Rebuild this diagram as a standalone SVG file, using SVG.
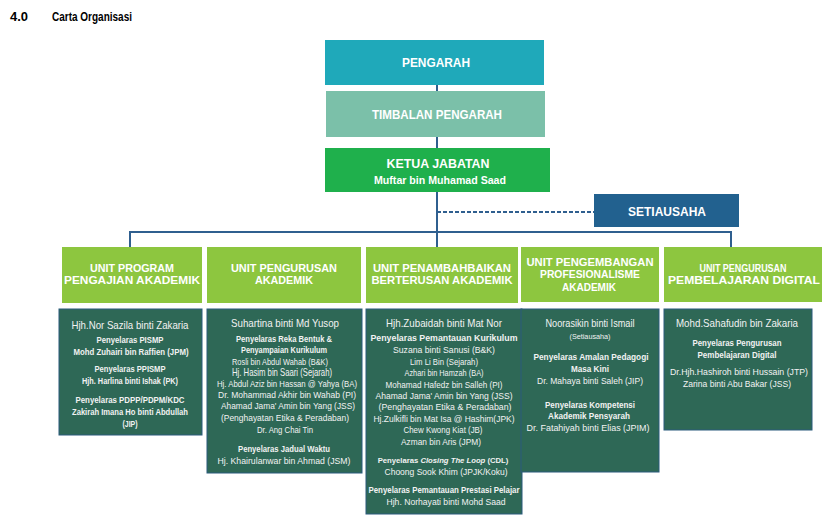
<svg xmlns="http://www.w3.org/2000/svg" width="833" height="531" viewBox="0 0 833 531">
<style>
text{font-family:"Liberation Sans",Arial,sans-serif;}
.t{fill:#fff;text-anchor:middle;font-weight:bold;}
.w{fill:#f2f2f2;text-anchor:middle;}
.b{font-weight:bold;}
.h{fill:#8dc63f;}
.d{fill:#2e6856;stroke:#2b5b7d;stroke-width:1;}
.c{stroke:#2f5f8f;stroke-width:2;fill:none;}
</style>
<rect width="833" height="531" fill="#fff"/>
<text x="10" y="21" font-size="12" font-weight="bold" textLength="18" lengthAdjust="spacingAndGlyphs">4.0</text>
<text x="52" y="21" font-size="12" font-weight="bold" textLength="80" lengthAdjust="spacingAndGlyphs">Carta Organisasi</text>

<g id="connectors">
<line class="c" x1="437" y1="85" x2="437" y2="247"/>
<polyline class="c" points="130,247 130,232 731,232 731,247"/>
<line class="c" x1="437" y1="212" x2="594" y2="212" stroke-dasharray="4,2"/>
</g>

<g id="pengarah">
<rect x="325" y="40" width="219" height="45" fill="#1fa9ba"/>
<text class="t" x="436" y="67" font-size="12" textLength="68" lengthAdjust="spacingAndGlyphs">PENGARAH</text>
</g>
<g id="timbalan">
<rect x="326" y="91" width="219" height="46" fill="#7bc0a9"/>
<text class="t" x="437" y="119" font-size="12" textLength="130" lengthAdjust="spacingAndGlyphs">TIMBALAN PENGARAH</text>
</g>
<g id="ketua">
<rect x="325" y="148" width="225" height="44" fill="#1fb04c"/>
<text class="t" x="438" y="168" font-size="12" textLength="103" lengthAdjust="spacingAndGlyphs">KETUA JABATAN</text>
<text class="t" x="440" y="184" font-size="11" textLength="132" lengthAdjust="spacingAndGlyphs">Muftar bin Muhamad Saad</text>
</g>
<g id="setiausaha">
<rect x="594" y="194" width="145" height="33" fill="#22618f"/>
<text class="t" x="667" y="216" font-size="12" font-weight="normal" textLength="78" lengthAdjust="spacingAndGlyphs">SETIAUSAHA</text>
</g>

<g id="unit1">
<rect class="h" x="62" y="247" width="140" height="56"/>
<text class="t" x="132" y="272" font-size="11.5" textLength="84" lengthAdjust="spacingAndGlyphs">UNIT PROGRAM</text>
<text class="t" x="132" y="284" font-size="11.5" textLength="136" lengthAdjust="spacingAndGlyphs">PENGAJIAN AKADEMIK</text>
<rect class="d" x="59" y="309" width="143" height="126"/>
<text class="w" x="130" y="329" font-size="11" textLength="117" lengthAdjust="spacingAndGlyphs">Hjh.Nor Sazila binti Zakaria</text>
<text class="w b" x="130" y="343" font-size="9" textLength="67" lengthAdjust="spacingAndGlyphs">Penyelaras PISMP</text>
<text class="w b" x="131" y="355" font-size="9" textLength="115" lengthAdjust="spacingAndGlyphs">Mohd Zuhairi bin Raffien (JPM)</text>
<text class="w b" x="130" y="372" font-size="9" textLength="71" lengthAdjust="spacingAndGlyphs">Penyelaras PPISMP</text>
<text class="w b" x="130" y="384" font-size="9" textLength="96" lengthAdjust="spacingAndGlyphs">Hjh. Harlina binti Ishak (PK)</text>
<text class="w b" x="130" y="403" font-size="9" textLength="109" lengthAdjust="spacingAndGlyphs">Penyelaras PDPP/PDPM/KDC</text>
<text class="w b" x="130" y="415" font-size="9" textLength="116" lengthAdjust="spacingAndGlyphs">Zakirah Imana Ho binti Abdullah</text>
<text class="w b" x="130" y="427" font-size="9" textLength="15" lengthAdjust="spacingAndGlyphs">(JIP)</text>
</g>

<g id="unit2">
<rect class="h" x="207" y="247" width="154" height="56"/>
<text class="t" x="284" y="272" font-size="11.5" textLength="106" lengthAdjust="spacingAndGlyphs">UNIT PENGURUSAN</text>
<text class="t" x="284" y="284" font-size="11.5" textLength="58" lengthAdjust="spacingAndGlyphs">AKADEMIK</text>
<rect class="d" x="207" y="309" width="155" height="164"/>
<text class="w" x="285" y="327" font-size="11" textLength="108" lengthAdjust="spacingAndGlyphs">Suhartina binti Md Yusop</text>
<text class="w b" x="284" y="342" font-size="9" textLength="96" lengthAdjust="spacingAndGlyphs">Penyelaras Reka Bentuk &amp;</text>
<text class="w b" x="284" y="353" font-size="9" textLength="86" lengthAdjust="spacingAndGlyphs">Penyampaian Kurikulum</text>
<text class="w" x="280" y="365" font-size="9" textLength="96" lengthAdjust="spacingAndGlyphs">Rosli bin Abdul Wahab (B&amp;K)</text>
<text class="w" x="282" y="376" font-size="10.5" textLength="100" lengthAdjust="spacingAndGlyphs">Hj. Hasim bin Saari (Sejarah)</text>
<text class="w" x="287" y="387" font-size="9" textLength="140" lengthAdjust="spacingAndGlyphs">Hj. Abdul Aziz bin Hassan @ Yahya (BA)</text>
<text class="w" x="287" y="398" font-size="9" textLength="138" lengthAdjust="spacingAndGlyphs">Dr. Mohammad Akhir bin Wahab (PI)</text>
<text class="w" x="288" y="409" font-size="9" textLength="134" lengthAdjust="spacingAndGlyphs">Ahamad Jama' Amin bin Yang (JSS)</text>
<text class="w" x="285" y="421" font-size="9" textLength="128" lengthAdjust="spacingAndGlyphs">(Penghayatan Etika &amp; Peradaban)</text>
<text class="w" x="285" y="433" font-size="9" textLength="56" lengthAdjust="spacingAndGlyphs">Dr. Ang Chai Tin</text>
<text class="w b" x="284" y="452" font-size="9" textLength="92" lengthAdjust="spacingAndGlyphs">Penyelaras Jadual Waktu</text>
<text class="w" x="284" y="464" font-size="9" textLength="133" lengthAdjust="spacingAndGlyphs">Hj. Khairulanwar bin Ahmad (JSM)</text>
</g>

<g id="unit3">
<rect class="h" x="366" y="247" width="152" height="56"/>
<text class="t" x="442" y="272" font-size="11.5" textLength="138" lengthAdjust="spacingAndGlyphs">UNIT PENAMBAHBAIKAN</text>
<text class="t" x="442" y="284" font-size="11.5" textLength="141" lengthAdjust="spacingAndGlyphs">BERTERUSAN AKADEMIK</text>
<rect class="d" x="366" y="309" width="156" height="205"/>
<text class="w" x="444" y="327" font-size="11" textLength="116" lengthAdjust="spacingAndGlyphs">Hjh.Zubaidah binti Mat Nor</text>
<text class="w b" x="444" y="341" font-size="9" textLength="147" lengthAdjust="spacingAndGlyphs">Penyelaras Pemantauan Kurikulum</text>
<text class="w" x="444" y="353" font-size="9" textLength="102" lengthAdjust="spacingAndGlyphs">Suzana binti Sanusi (B&amp;K)</text>
<text class="w" x="444" y="365" font-size="9" textLength="68" lengthAdjust="spacingAndGlyphs">Lim Li Bin (Sejarah)</text>
<text class="w" x="444" y="376" font-size="9" textLength="79" lengthAdjust="spacingAndGlyphs">Azhari bin Hamzah (BA)</text>
<text class="w" x="444" y="388" font-size="9" textLength="117" lengthAdjust="spacingAndGlyphs">Mohamad Hafedz bin Salleh (PI)</text>
<text class="w" x="444" y="399" font-size="9" textLength="137" lengthAdjust="spacingAndGlyphs">Ahamad Jama' Amin bin Yang (JSS)</text>
<text class="w" x="445" y="410" font-size="9" textLength="133" lengthAdjust="spacingAndGlyphs">(Penghayatan Etika &amp; Peradaban)</text>
<text class="w" x="444" y="422" font-size="9" textLength="141" lengthAdjust="spacingAndGlyphs">Hj.Zulkifli bin Mat Isa @ Hashim(JPK)</text>
<text class="w" x="443" y="433" font-size="9" textLength="79" lengthAdjust="spacingAndGlyphs">Chew Kwong Kiat (JB)</text>
<text class="w" x="441" y="445" font-size="9" textLength="80" lengthAdjust="spacingAndGlyphs">Azman bin Aris (JPM)</text>
<text class="w b" x="443" y="463" font-size="7.7">Penyelaras <tspan font-style="italic">Closing The Loop</tspan> (CDL)</text>
<text class="w" x="446" y="475" font-size="9" textLength="123" lengthAdjust="spacingAndGlyphs">Choong Sook Khim (JPJK/Koku)</text>
<text class="w b" x="444" y="493" font-size="8.5" textLength="151" lengthAdjust="spacingAndGlyphs">Penyelaras Pemantauan Prestasi Pelajar</text>
<text class="w" x="446" y="505" font-size="9" textLength="119" lengthAdjust="spacingAndGlyphs">Hjh. Norhayati binti Mohd Saad</text>
</g>

<g id="unit4">
<rect class="h" x="521" y="247" width="138" height="55"/>
<text class="t" x="590" y="266" font-size="11.5" textLength="127" lengthAdjust="spacingAndGlyphs">UNIT PENGEMBANGAN</text>
<text class="t" x="590" y="278" font-size="11.5" textLength="100" lengthAdjust="spacingAndGlyphs">PROFESIONALISME</text>
<text class="t" x="589" y="291" font-size="11.5" textLength="54" lengthAdjust="spacingAndGlyphs">AKADEMIK</text>
<rect class="d" x="521" y="309" width="138" height="163"/>
<text class="w" x="590" y="327" font-size="10.5" textLength="89" lengthAdjust="spacingAndGlyphs">Noorasikin binti Ismail</text>
<text class="w" x="590" y="339" font-size="7.5" textLength="41" lengthAdjust="spacingAndGlyphs">(Setiausaha)</text>
<text class="w b" x="591" y="360" font-size="9" textLength="115" lengthAdjust="spacingAndGlyphs">Penyelaras Amalan Pedagogi</text>
<text class="w b" x="590" y="372" font-size="9" textLength="38" lengthAdjust="spacingAndGlyphs">Masa Kini</text>
<text class="w" x="590" y="384" font-size="9" textLength="106" lengthAdjust="spacingAndGlyphs">Dr. Mahaya binti Saleh (JIP)</text>
<text class="w b" x="590" y="408" font-size="9" textLength="90" lengthAdjust="spacingAndGlyphs">Penyelaras Kompetensi</text>
<text class="w b" x="589" y="419" font-size="9" textLength="82" lengthAdjust="spacingAndGlyphs">Akademik Pensyarah</text>
<text class="w" x="588" y="431" font-size="9" textLength="123" lengthAdjust="spacingAndGlyphs">Dr. Fatahiyah binti Elias (JPIM)</text>
</g>

<g id="unit5">
<rect class="h" x="664" y="247" width="158" height="55"/>
<text class="t" x="743" y="272" font-size="11.5" textLength="87" lengthAdjust="spacingAndGlyphs">UNIT PENGURUSAN</text>
<text class="t" x="744" y="284" font-size="11.5" textLength="152" lengthAdjust="spacingAndGlyphs">PEMBELAJARAN DIGITAL</text>
<rect class="d" x="664" y="309" width="148" height="121"/>
<text class="w" x="737" y="327" font-size="10.5" textLength="122" lengthAdjust="spacingAndGlyphs">Mohd.Sahafudin bin Zakaria</text>
<text class="w b" x="737" y="346" font-size="9" textLength="89" lengthAdjust="spacingAndGlyphs">Penyelaras Pengurusan</text>
<text class="w b" x="737" y="358" font-size="9" textLength="79" lengthAdjust="spacingAndGlyphs">Pembelajaran Digital</text>
<text class="w" x="739" y="375" font-size="9" textLength="138" lengthAdjust="spacingAndGlyphs">Dr.Hjh.Hashiroh binti Hussain (JTP)</text>
<text class="w" x="737" y="387" font-size="9" textLength="108" lengthAdjust="spacingAndGlyphs">Zarina binti Abu Bakar (JSS)</text>
</g>
</svg>
